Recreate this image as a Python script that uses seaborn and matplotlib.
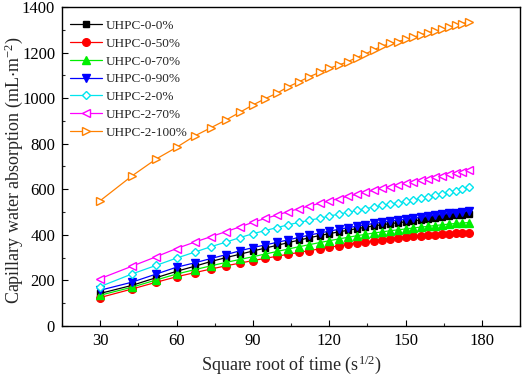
import matplotlib
matplotlib.use("Agg")
import matplotlib.pyplot as plt
from matplotlib.ticker import MultipleLocator
import seaborn as sns
import pandas as pd

# square root of time (s^1/2)
sqrt_time = [30.0, 42.4, 52.0, 60.0, 67.1, 73.5, 79.4, 84.9, 90.0, 94.9,
             99.5, 103.9, 108.2, 112.2, 116.2, 120.0, 123.7, 127.3, 130.8, 134.2,
             137.5, 140.7, 143.9, 147.0, 150.0, 153.0, 155.9, 158.7, 161.6, 164.3,
             167.0, 169.7, 172.3, 174.9]

uhpc_0_0 = [143, 178, 212, 240, 262, 283, 300, 315, 329, 342,
            354, 366, 377, 387, 397, 405, 413, 420, 427, 433,
            439, 444, 449, 453, 457, 461, 465, 469, 473, 477,
            481, 485, 488, 491]
uhpc_0_50 = [125, 162, 192, 216, 234, 250, 264, 276, 287, 297,
             306, 315, 323, 331, 338, 345, 352, 358, 364, 369,
             374, 379, 383, 387, 390, 393, 396, 399, 401, 403,
             405, 407, 408, 409]
uhpc_0_70 = [135, 170, 202, 228, 247, 264, 279, 292, 304, 316,
             327, 338, 348, 357, 366, 374, 382, 389, 396, 402,
             408, 413, 418, 422, 426, 430, 434, 437, 441, 444,
             447, 450, 452, 454]
uhpc_0_90 = [157, 192, 228, 258, 277, 296, 313, 330, 344, 356,
             367, 378, 389, 399, 408, 416, 424, 431, 438, 444,
             450, 455, 460, 464, 468, 472, 477, 481, 486, 490,
             494, 498, 502, 506]
uhpc_2_0 = [173, 228, 266, 298, 324, 348, 368, 388, 405, 419,
            432, 444, 455, 464, 473, 482, 491, 499, 507, 515,
            522, 529, 535, 541, 547, 553, 560, 566, 573, 580,
            587, 594, 601, 609]
uhpc_2_70 = [208, 262, 304, 340, 368, 392, 414, 435, 455, 472,
             487, 502, 515, 527, 538, 549, 559, 569, 578, 587,
             596, 604, 612, 619, 626, 633, 640, 646, 653, 659,
             665, 671, 677, 683]
uhpc_2_100 = [550, 658, 733, 784, 834, 870, 904, 938, 970, 998,
              1022, 1050, 1072, 1094, 1113, 1131, 1145, 1160, 1178, 1194,
              1212, 1228, 1240, 1248, 1258, 1267, 1277, 1287, 1294, 1302,
              1311, 1320, 1327, 1335]

labels = ["UHPC-0-0%", "UHPC-0-50%", "UHPC-0-70%", "UHPC-0-90%",
          "UHPC-2-0%", "UHPC-2-70%", "UHPC-2-100%"]
series = [uhpc_0_0, uhpc_0_50, uhpc_0_70, uhpc_0_90, uhpc_2_0, uhpc_2_70, uhpc_2_100]

x_ticks = [30, 60, 90, 120, 150, 180]
y_ticks = [0, 200, 400, 600, 800, 1000, 1200, 1400]

colors = ["#000000", "#ff0000", "#00ee00", "#0000ff", "#00e5ee", "#ff00ff", "#ff8000"]
markers = ["s", "o", "^", "v", "D", "<", ">"]
msizes = [4.5, 5.5, 5.5, 5.5, 4.5, 6, 6]
filled = [True, True, True, True, False, False, False]

sns.set_style("ticks")
plt.rcParams["font.family"] = ["Liberation Serif", "DejaVu Serif"]
plt.rcParams["mathtext.fontset"] = "custom"
plt.rcParams["mathtext.rm"] = "Liberation Serif"
plt.rcParams["mathtext.it"] = "Liberation Serif"
plt.rcParams["mathtext.default"] = "regular"

fig = plt.figure(figsize=(5.26, 3.81), dpi=100)
ax = fig.add_axes([0.118, 0.1444, 0.8706, 0.8372])

for lab, vals, c, m, ms, f in zip(labels, series, colors, markers, msizes, filled):
    df = pd.DataFrame({"x": sqrt_time, "y": vals})
    sns.lineplot(data=df, x="x", y="y", ax=ax, color=c, marker=m, markersize=ms,
                 linewidth=0.9, markeredgecolor=c, markeredgewidth=1.0,
                 markerfacecolor=(c if f else "white"), label=lab)

ax.set_xlim(15, 195)
ax.set_ylim(0, 1400)
ax.set_xticks(x_ticks)
ax.set_yticks(y_ticks)
ax.xaxis.set_minor_locator(MultipleLocator(15))
ax.yaxis.set_minor_locator(MultipleLocator(100))
ax.tick_params(which="major", direction="in", length=4, width=0.8, labelsize=12,
               colors="black", pad=5)
ax.tick_params(which="minor", direction="in", length=2.5, width=0.8)
for sp in ax.spines.values():
    sp.set_visible(True)
    sp.set_linewidth(1.0)
    sp.set_color("black")

ax.set_xlabel("Square root of time (s$^{1/2}$)", fontsize=13, labelpad=3)
ax.set_ylabel("Capillary water absorption (mL$\\cdot$m$^{-2}$)", fontsize=13)
ax.yaxis.set_label_coords(-0.082, 0.49)

leg = ax.legend(loc="upper left", frameon=False, fontsize=9.5, handlelength=2.4,
                handletextpad=0.3, labelspacing=0.42, borderaxespad=0.2,
                bbox_to_anchor=(0.0, 0.985))

fig.savefig("out.png", dpi=100)
